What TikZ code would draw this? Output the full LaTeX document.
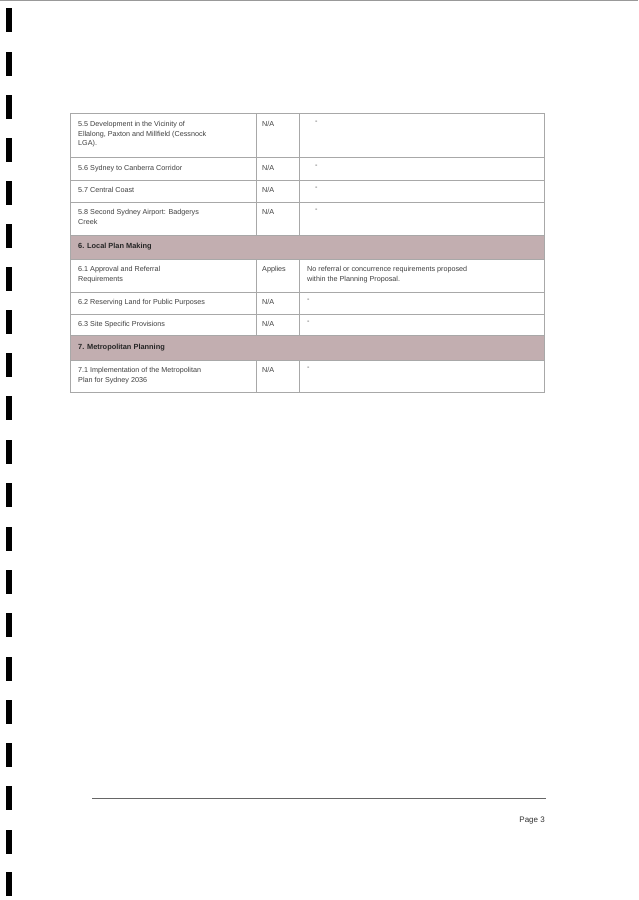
\documentclass[tikz,border=0pt]{standalone}
\usepackage{fontspec}
\setmainfont{Liberation Sans}
\definecolor{hdr}{HTML}{C2AEB0}
\definecolor{rule}{HTML}{A8A8A8}
\begin{document}
\begin{tikzpicture}[x=1pt,y=-1pt,
  cell/.style={anchor=north west,inner sep=0pt,font=\fontsize{7.2}{9.6}\selectfont,text=black!75,align=left},
  head/.style={anchor=west,inner sep=0pt,font=\bfseries\fontsize{7.4}{9}\selectfont,text=black!85},
  grid/.style={draw=rule,line width=0.6pt},
  hole/.style={fill=black}]
\useasboundingbox (0,0) rectangle (638,900);
\fill[white] (0,0) rectangle (638,900);
\draw[black!40,line width=0.5pt] (0,0.5) -- (638,0.5);
% binding marks
\foreach \y in {8,52,95,138,181,224,267,310,353,396,440,483,527,570,613,657,700,743,786,830,872}
  \fill (6,\y) rectangle (12,\y+24);
% header fills
\fill[hdr] (70,235) rectangle (544,259);
\fill[hdr] (70,335) rectangle (544,360);
% grid
\draw[grid] (70,113) rectangle (544,392);
\foreach \y in {157,180,202,235,259,292,314,335,360} \draw[grid] (70,\y) -- (544,\y);
\foreach \a/\b in {113/235,259/335,360/392} {\draw[grid] (256,\a) -- (256,\b); \draw[grid] (299,\a) -- (299,\b);}
% text
\node[cell] (r1) at (78,121) {5.5 Development in the Vicinity of\\Ellalong, Paxton and Millfield (Cessnock\\LGA).};
\node[cell] (r1b) at (262,121) {N/A};
\node[cell] (r1c) at (315,121) {-};
\node[cell] (r2) at (78,165) {5.6 Sydney to Canberra Corridor};
\node[cell] (r2b) at (262,165) {N/A};
\node[cell] (r2c) at (315,165) {-};
\node[cell] (r3) at (78,187) {5.7 Central Coast};
\node[cell] (r3b) at (262,187) {N/A};
\node[cell] (r3c) at (315,187) {-};
\node[cell] (r4) at (78,209) {5.8 Second Sydney Airport: Badgerys\\Creek};
\node[cell] (r4b) at (262,209) {N/A};
\node[cell] (r4c) at (315,209) {-};
\node[head] (h6) at (78,247) {6. Local Plan Making};
\node[cell] (r5) at (78,266) {6.1 Approval and Referral\\Requirements};
\node[cell] (r5b) at (262,266) {Applies};
\node[cell] (r5c) at (307,266) {No referral or concurrence requirements proposed\\within the Planning Proposal.};
\node[cell] (r6) at (78,299) {6.2 Reserving Land for Public Purposes};
\node[cell] (r6b) at (262,299) {N/A};
\node[cell] (r6c) at (307,299) {-};
\node[cell] (r7) at (78,321) {6.3 Site Specific Provisions};
\node[cell] (r7b) at (262,321) {N/A};
\node[cell] (r7c) at (307,321) {-};
\node[head] (h7) at (78,348) {7. Metropolitan Planning};
\node[cell] (r8) at (78,367) {7.1 Implementation of the Metropolitan\\Plan for Sydney 2036};
\node[cell] (r8b) at (262,367) {N/A};
\node[cell] (r8c) at (307,367) {-};
% footer
\draw[black!60,line width=0.8pt] (92,798) -- (546,798);
\node[anchor=east,inner sep=0pt,font=\fontsize{8}{10}\selectfont,text=black!80] (pg) at (545,821) {Page 3};
\end{tikzpicture}
\end{document}
